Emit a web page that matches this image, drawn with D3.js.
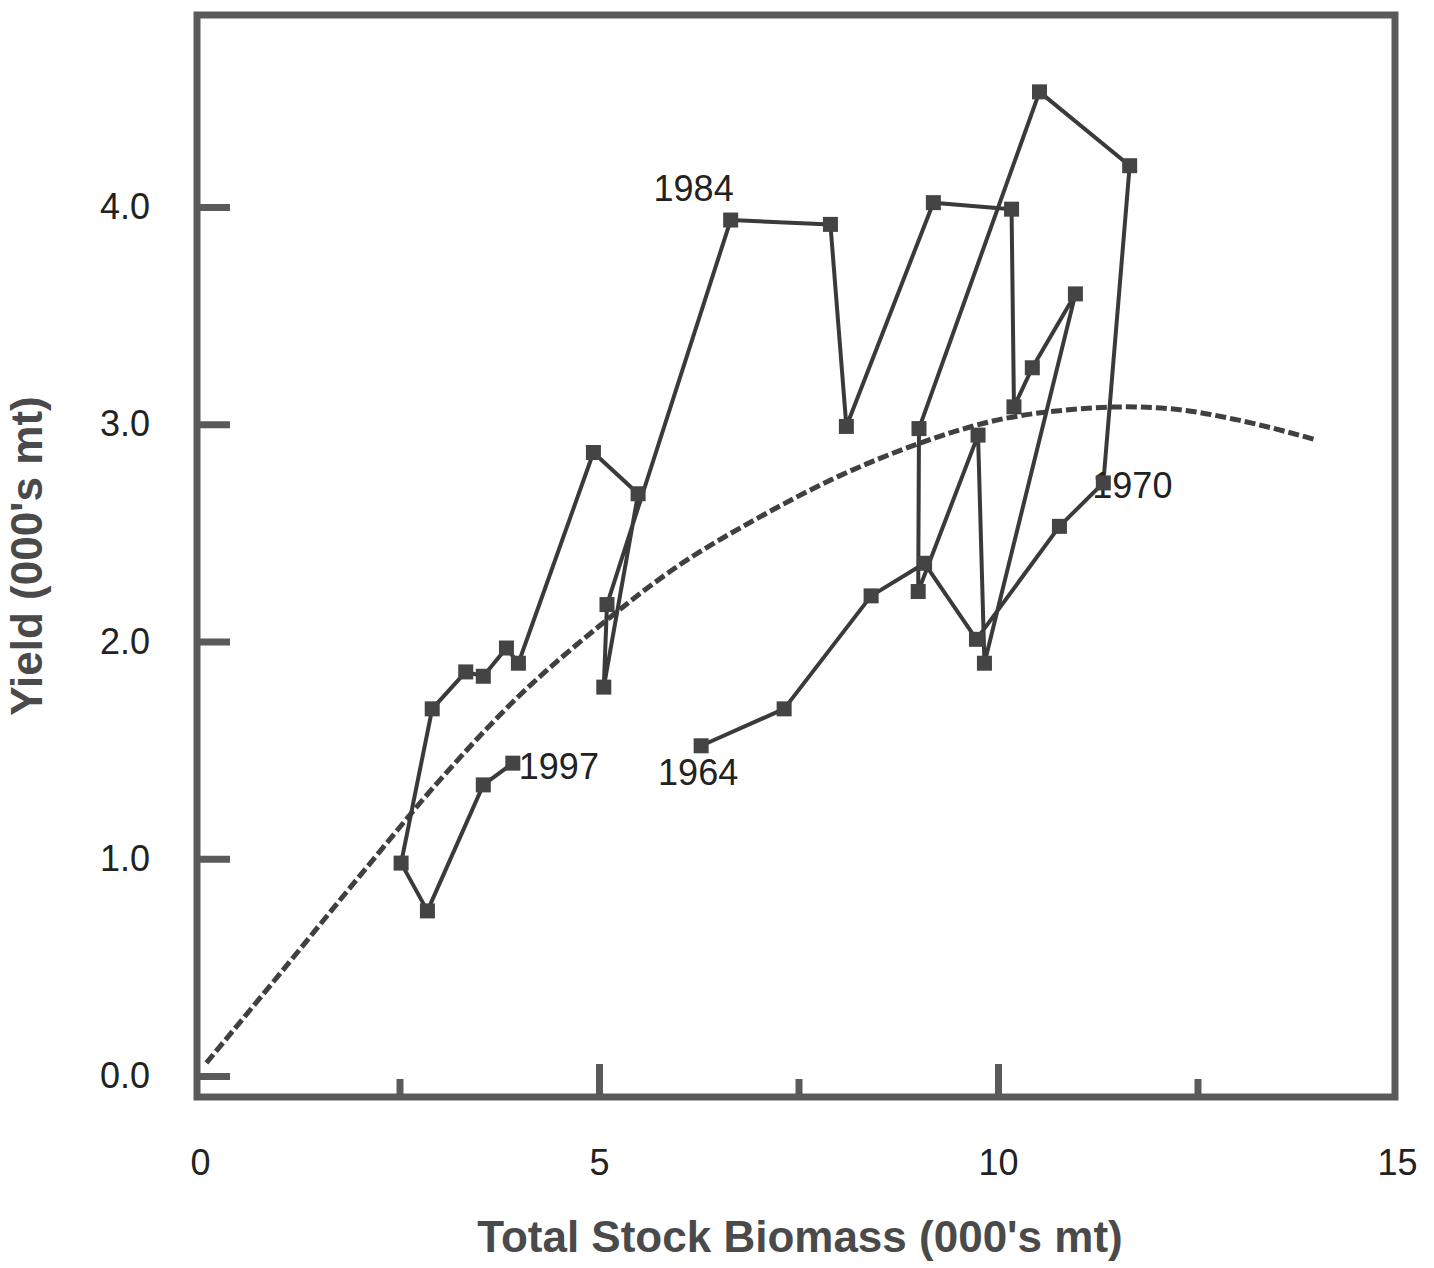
<!DOCTYPE html>
<html>
<head>
<meta charset="utf-8">
<script src="https://cdn.jsdelivr.net/npm/d3@7"></script>
<style>
  body { margin: 0; background: #fff; }
  svg { display: block; }
  text { font-family: "Liberation Sans", Arial, sans-serif; }
</style>
</head>
<body>
<div id="vis"></div>
<script>
const W = 1434;
const H = 1268;

// yearly observations (biomass and yield, 000's mt)
const years = [1964, 1965, 1966, 1967, 1968, 1969, 1970, 1971, 1972, 1973,
    1974, 1975, 1976, 1977, 1978, 1979, 1980, 1981, 1982, 1983,
    1984, 1985, 1986, 1987, 1988, 1989, 1990, 1991, 1992, 1993,
    1994, 1995, 1996, 1997];
const biomass = [6.28, 7.32, 8.41, 9.08, 9.73, 10.77, 11.32, 11.65, 10.52, 9.01,
    9.00, 9.75, 9.83, 10.97, 10.43, 10.20, 10.17, 9.19, 8.10, 7.90,
    6.65, 5.10, 5.06, 5.49, 4.93, 3.99, 3.84, 3.55, 3.33, 2.91,
    2.52, 2.85, 3.55, 3.92];
const yieldObs = [1.52, 1.69, 2.21, 2.36, 2.01, 2.53, 2.73, 4.19, 4.53, 2.98,
    2.23, 2.95, 1.90, 3.60, 3.26, 3.08, 3.99, 4.02, 2.99, 3.92,
    3.94, 2.17, 1.79, 2.68, 2.87, 1.90, 1.97, 1.84, 1.86, 1.69,
    0.98, 0.76, 1.34, 1.44];

// production curve
const curveB = [0.08, 1.0, 2.0, 3.0, 4.0, 5.0, 6.0, 7.0, 8.0, 9.0, 10.0, 11.0, 11.6, 12.2, 13.0, 13.97];
const curveY = [0.06, 0.47, 0.92, 1.36, 1.75, 2.07, 2.35, 2.57, 2.76, 2.91, 3.02, 3.07, 3.08, 3.07, 3.02, 2.93];

const labelledYears = [1964, 1970, 1984, 1997];

const xMajor = [0, 5, 10, 15];
const xMinor = [2.5, 7.5, 12.5];
const yTicks = [0, 1, 2, 3, 4];

const ink = "#3a3a3a";
const frameInk = "#5a5a5a";

const xScale = d3.scaleLinear().domain([0, 15]).range([200, 1397]);
const yScale = d3.scaleLinear().domain([0, 4]).range([1076, 207]);

const frame = { left: 197, right: 1395, top: 15, bottom: 1097 };

const svg = d3.select("#vis")
    .append("svg")
    .attr("width", W)
    .attr("height", H);

// y axis: ticks point into the plot
const yAxis = d3.axisLeft(yScale)
    .tickValues(yTicks)
    .tickSize(-33)
    .tickPadding(47)
    .tickFormat(d3.format(".1f"));

const yAxisG = svg.append("g")
    .attr("transform", `translate(${frame.left},0)`)
    .call(yAxis);
yAxisG.select(".domain").remove();
yAxisG.selectAll(".tick line")
    .attr("stroke", frameInk)
    .attr("stroke-width", 7);
yAxisG.selectAll(".tick text")
    .attr("fill", "#222")
    .style("font-size", "36px")
    .style("font-family", "'Liberation Sans', Arial, sans-serif");

// x axis: labelled major ticks, short unlabelled minor ticks
const xAxis = d3.axisBottom(xScale)
    .tickValues(xMajor)
    .tickSize(-33)
    .tickPadding(52)
    .tickFormat(d3.format("d"));

const xAxisG = svg.append("g")
    .attr("transform", `translate(0,${frame.bottom})`)
    .call(xAxis);
xAxisG.select(".domain").remove();
xAxisG.selectAll(".tick line")
    .attr("stroke", frameInk)
    .attr("stroke-width", 7)
    .attr("display", d => (d === 0 || d === 15) ? "none" : null);
xAxisG.selectAll(".tick text")
    .attr("fill", "#222")
    .style("font-size", "36px")
    .style("font-family", "'Liberation Sans', Arial, sans-serif");

const xMinorG = svg.append("g")
    .attr("transform", `translate(0,${frame.bottom})`)
    .call(d3.axisBottom(xScale).tickValues(xMinor).tickSize(-18).tickFormat(""));
xMinorG.select(".domain").remove();
xMinorG.selectAll(".tick line")
    .attr("stroke", frameInk)
    .attr("stroke-width", 7);

// frame
svg.append("rect")
    .attr("x", frame.left)
    .attr("y", frame.top)
    .attr("width", frame.right - frame.left)
    .attr("height", frame.bottom - frame.top)
    .attr("fill", "none")
    .attr("stroke", frameInk)
    .attr("stroke-width", 7);

// dashed production curve
const curvePts = curveB.map((b, i) => ({ b: b, y: curveY[i] }));
svg.append("path")
    .datum(curvePts)
    .attr("fill", "none")
    .attr("stroke", "#404040")
    .attr("stroke-width", 5)
    .attr("stroke-dasharray", "11,4")
    .attr("d", d3.line()
        .x(d => xScale(d.b))
        .y(d => yScale(d.y))
        .curve(d3.curveMonotoneX));

// observed trajectory
const obs = years.map((yr, i) => ({ year: yr, b: biomass[i], y: yieldObs[i] }));

svg.append("path")
    .datum(obs)
    .attr("fill", "none")
    .attr("stroke", ink)
    .attr("stroke-width", 4)
    .attr("stroke-linejoin", "round")
    .attr("d", d3.line()
        .x(d => xScale(d.b))
        .y(d => yScale(d.y)));

// year labels (drawn before markers, the 1970 marker hides its "1")
const labelStyle = {
    1964: { anchor: "middle", dx: -3, dy: 39 },
    1970: { anchor: "start", dx: -11, dy: 15 },
    1984: { anchor: "end", dx: 3, dy: -19 },
    1997: { anchor: "start", dx: 6, dy: 16 }
};

svg.selectAll(".year-label")
    .data(obs.filter(d => labelledYears.includes(d.year)))
    .enter()
    .append("text")
    .attr("class", "year-label")
    .attr("x", d => xScale(d.b) + labelStyle[d.year].dx)
    .attr("y", d => yScale(d.y) + labelStyle[d.year].dy)
    .attr("text-anchor", d => labelStyle[d.year].anchor)
    .attr("fill", "#222")
    .style("font-size", "36px")
    .text(d => d.year);

const ms = 15;
svg.selectAll(".marker")
    .data(obs)
    .enter()
    .append("rect")
    .attr("class", "marker")
    .attr("x", d => xScale(d.b) - ms / 2)
    .attr("y", d => yScale(d.y) - ms / 2)
    .attr("width", ms)
    .attr("height", ms)
    .attr("fill", "#444");

// axis titles
svg.append("text")
    .attr("x", 800)
    .attr("y", 1252)
    .attr("text-anchor", "middle")
    .attr("fill", "#4a4a4a")
    .style("font-size", "44px")
    .style("font-weight", "bold")
    .text("Total Stock Biomass (000's mt)");

svg.append("text")
    .attr("transform", "translate(42,556) rotate(-90)")
    .attr("text-anchor", "middle")
    .attr("fill", "#4a4a4a")
    .style("font-size", "44px")
    .style("font-weight", "bold")
    .text("Yield (000's mt)");
</script>
</body>
</html>
